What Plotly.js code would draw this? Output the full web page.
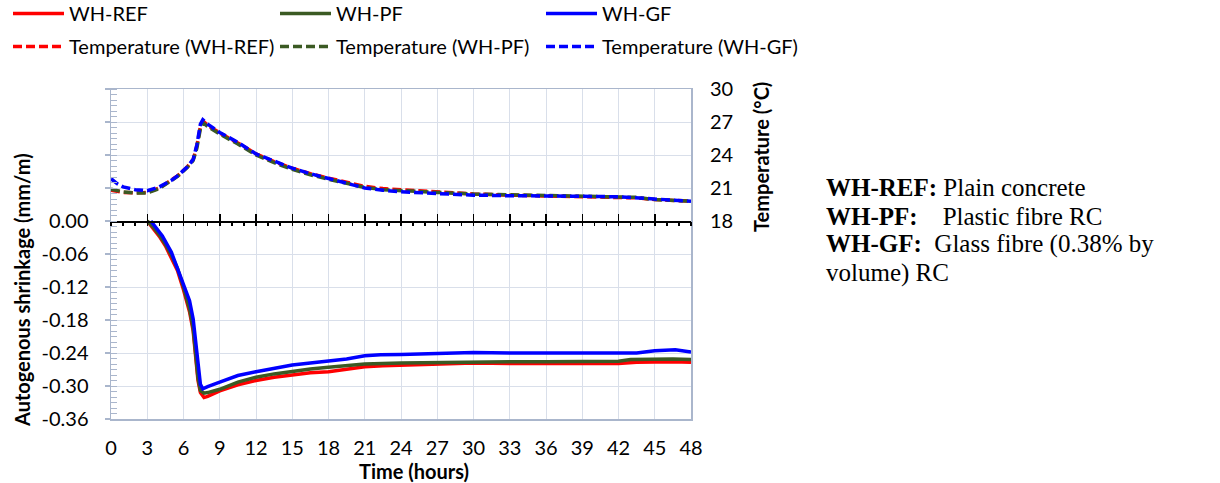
<!DOCTYPE html>
<html><head><meta charset="utf-8">
<script src="https://cdn.plot.ly/plotly-3.0.1.min.js"></script>
<style>body{margin:0;background:#fff}</style>
</head><body><div id="chart" style="width:1220px;height:483px"></div>
<script>
// ---- data ----
const timeRef = [3,3.5,4,4.5,5,5.5,6,6.5,6.8,7.0,7.2,7.4,7.7,8,9,10.5,12,13.5,15,16.5,18,19.5,21,22.5,24,27,30,33,36,39,42,43.5,45,46.5,48];
const shrinkRef = [0,-0.013,-0.028,-0.045,-0.066,-0.09,-0.125,-0.165,-0.2,-0.245,-0.29,-0.312,-0.321,-0.319,-0.309,-0.298,-0.29,-0.284,-0.28,-0.276,-0.274,-0.27,-0.265,-0.263,-0.262,-0.26,-0.258,-0.259,-0.259,-0.259,-0.259,-0.257,-0.256,-0.256,-0.257];
const timePF = [3,3.5,4,4.5,5,5.5,6,6.5,6.8,7.0,7.2,7.4,7.7,8,9,10.5,12,13.5,15,16.5,18,19.5,21,24,27,30,33,36,39,42,43,45,46.5,48];
const shrinkPF = [0,-0.011,-0.025,-0.042,-0.062,-0.086,-0.12,-0.16,-0.195,-0.24,-0.285,-0.308,-0.313,-0.312,-0.306,-0.293,-0.284,-0.278,-0.273,-0.269,-0.266,-0.263,-0.26,-0.258,-0.257,-0.257,-0.256,-0.256,-0.256,-0.255,-0.252,-0.251,-0.251,-0.252];
const timeGF = [3.3,3.8,4.25,5,5.7,6.2,6.5,6.8,7.0,7.2,7.4,7.6,8,9,10.5,12,13.5,15,16.5,18,19.5,21,22.3,24,27,30,33,36,39,42,43.5,45,46.7,48];
const shrinkGF = [0,-0.013,-0.027,-0.057,-0.097,-0.128,-0.145,-0.178,-0.22,-0.263,-0.297,-0.305,-0.301,-0.293,-0.281,-0.274,-0.268,-0.262,-0.258,-0.254,-0.251,-0.245,-0.243,-0.2425,-0.24,-0.239,-0.24,-0.24,-0.24,-0.241,-0.24,-0.236,-0.234,-0.238];

const tempTimeRef = [0,1,2,3,4,5,5.5,6.3,6.8,7.1,7.4,7.6,8,9,10.5,12,13.5,15,16.5,18,19.5,21,22.5,24,27,30,33,36,39,42,43.5,45,48];
const tempRef = [20.8,20.6,20.55,20.6,21.0,21.7,22.1,22.9,23.6,24.8,26.6,27.1,26.7,26.0,25.1,24.1,23.4,22.8,22.3,21.9,21.5,21.15,20.95,20.85,20.65,20.45,20.35,20.3,20.25,20.2,20.1,19.95,19.8];
const tempTimePF = [0,1,2,3,4,5,5.5,6.3,6.8,7.1,7.4,7.6,8,9,10.5,12,13.5,15,16.5,18,19.5,21,22.5,24,27,30,33,36,39,42,43.5,45,48];
const tempPF = [20.9,20.65,20.55,20.55,20.95,21.65,22.05,22.85,23.5,24.6,26.4,26.95,26.6,25.9,25.0,24.0,23.3,22.7,22.2,21.8,21.4,21.05,20.85,20.75,20.6,20.45,20.4,20.3,20.3,20.2,20.15,19.95,19.8];
const tempTimeGF = [0,0.5,1,2,3,4,5,5.5,6.3,6.8,7.1,7.4,7.6,8,9,10.5,12,13.5,15,16.5,18,19.5,21,22.5,24,27,30,33,36,39,42,43.5,45,48];
const tempGF = [21.85,21.4,21.1,20.85,20.75,21.1,21.7,22.1,22.9,23.6,24.9,26.8,27.2,26.8,26.05,25.15,24.1,23.45,22.8,22.3,21.85,21.45,21.0,20.8,20.65,20.5,20.35,20.3,20.3,20.25,20.2,20.1,19.95,19.8];

const seriesNames = ['WH-REF','WH-PF','WH-GF'];
const tempNames = ['Temperature (WH-REF)','Temperature (WH-PF)','Temperature (WH-GF)'];
const shrinkTicks = [-0.36,-0.30,-0.24,-0.18,-0.12,-0.06,0,0.06,0.12,0.18,0.24];
const shrinkTickText = ['-0.36','-0.30','-0.24','-0.18','-0.12','-0.06','0.00','','','',''];
const tempTicks = [18,21,24,27,30];
const noteLines = [
  '<b>WH-REF:</b> Plain concrete',
  '<b>WH-PF:</b>\u00a0\u00a0\u00a0\u00a0Plastic fibre RC',
  '<b>WH-GF:</b>\u00a0\u00a0Glass fibre (0.38% by',
  'volume) RC'
];

// ---- styling ----
const RED = '#ff0000', GREEN = '#3b5a23', BLUE = '#0000ff';
const colors = [RED, GREEN, BLUE];
const FONT = 'Lato, "Open Sans", sans-serif';
const FS = 20;
const GRID = '#d9dfea', AXIS = '#aab6cc';
const L = 111, R = 691, T = 89, B = 419, W = R - L, H = B - T;
const px = x => (x - L) / W;
const py = y => (B - y) / H;
const LW = 3.5, DASH = '9px,4px';

const shrinkX = [timeRef, timePF, timeGF], shrinkY = [shrinkRef, shrinkPF, shrinkGF];
const tempX = [tempTimeRef, tempTimePF, tempTimeGF], tempY = [tempRef, tempPF, tempGF];

const traces = [];
for (let i = 0; i < 3; i++) {
  traces.push({x: shrinkX[i], y: shrinkY[i], type: 'scatter', mode: 'lines', name: seriesNames[i],
    line: {color: colors[i], width: LW}, legend: i === 0 ? 'legend' : 'legend' + (i + 1), hoverinfo: 'skip'});
}
for (let i = 0; i < 3; i++) {
  traces.push({x: tempX[i], y: tempY[i], type: 'scatter', mode: 'lines', name: tempNames[i], yaxis: 'y2',
    line: {color: colors[i], width: LW, dash: DASH}, legend: 'legend' + (i + 4), hoverinfo: 'skip'});
}
traces.push({x: [], y: [], xaxis: 'x2', showlegend: false, hoverinfo: 'skip', type: 'scatter'});
traces.push({x: [], y: [], xaxis: 'x3', showlegend: false, hoverinfo: 'skip', type: 'scatter'});

const legendX = [8, 275, 541];
const legendY = [-6, 27];
const layout = {
  width: 1220, height: 483,
  showlegend: true,
  margin: {l: L, r: 1220 - R, t: T, b: 483 - B, autoexpand: false},
  paper_bgcolor: '#fff', plot_bgcolor: '#fff',
  font: {family: FONT, size: FS, color: '#000'},
  xaxis: {range: [0, 48], tickmode: 'linear', tick0: 0, dtick: 3, showgrid: true, gridcolor: GRID, gridwidth: 1,
    showline: true, linecolor: AXIS, linewidth: 1.5, mirror: true, ticks: '', zeroline: false,
    tickfont: {family: FONT, size: FS, color: '#000'}, ticklabelstandoff: 10},
  xaxis2: {overlaying: 'x', anchor: 'free', position: 0.6, range: [0, 48], tickmode: 'linear', tick0: 0, dtick: 3,
    showline: true, linecolor: '#000', linewidth: 1.5, ticks: 'inside', ticklen: 7, tickwidth: 1.5, tickcolor: '#000',
    showticklabels: false, showgrid: false, zeroline: false},
  xaxis3: {overlaying: 'x', anchor: 'free', position: 0.6, range: [0, 48], tickmode: 'linear', tick0: 0, dtick: 1,
    showline: false, ticks: 'outside', ticklen: 4, tickwidth: 1.5, tickcolor: '#000',
    showticklabels: false, showgrid: false, zeroline: false},
  yaxis: {range: [-0.36, 0.24], tickmode: 'array', tickvals: shrinkTicks, ticktext: shrinkTickText,
    showgrid: true, gridcolor: GRID, gridwidth: 1, zeroline: false,
    showline: true, linecolor: AXIS, linewidth: 1.5, mirror: true,
    ticks: 'outside', ticklen: 5, tickcolor: AXIS, tickwidth: 1.5,
    minor: {tickmode: 'linear', tick0: 0, dtick: 0.01, ticks: 'inside', ticklen: 6, tickcolor: AXIS, tickwidth: 1, showgrid: false},
    tickfont: {family: FONT, size: FS, color: '#000'}, ticklabelstandoff: 12},
  yaxis2: {overlaying: 'y', side: 'right', range: [0, 30], tickmode: 'array', tickvals: tempTicks,
    showgrid: false, zeroline: false, showline: false, ticks: '',
    tickfont: {family: FONT, size: FS, color: '#000'}, ticklabelstandoff: 18},
  annotations: [
    {text: '<b>Autogenous shrinkage (mm/m)</b>', xref: 'paper', yref: 'paper', x: px(22), y: py(290),
      textangle: -90, showarrow: false, xanchor: 'center', yanchor: 'middle', font: {family: FONT, size: FS, color: '#000'}},
    {text: '<b>Temperature (°C)</b>', xref: 'paper', yref: 'paper', x: px(761), y: py(157),
      textangle: -90, showarrow: false, xanchor: 'center', yanchor: 'middle', font: {family: FONT, size: FS, color: '#000'}},
    {text: '<b>Time (hours)</b>', xref: 'paper', yref: 'paper', x: px(414), y: py(471),
      showarrow: false, xanchor: 'center', yanchor: 'middle', font: {family: FONT, size: FS, color: '#000'}}
  ]
};
const noteY = [187.5, 216, 244, 272.5];
noteLines.forEach((t, i) => {
  layout.annotations.push({text: t, xref: 'paper', yref: 'paper', x: px(825), y: py(noteY[i]),
    showarrow: false, xanchor: 'left', yanchor: 'middle', align: 'left', borderpad: 0,
    font: {family: '"Liberation Serif", "Times New Roman", serif', size: 25, color: '#000'}});
});
for (let k = 0; k < 6; k++) {
  const key = k === 0 ? 'legend' : 'legend' + (k + 1);
  layout[key] = {x: px(legendX[k % 3]), y: py(legendY[Math.floor(k / 3)]), xanchor: 'left', yanchor: 'top',
    orientation: 'v', bgcolor: 'rgba(0,0,0,0)', borderwidth: 0, itemwidth: 51, visible: true,
    font: {family: FONT, size: FS, color: '#000'}};
}
Plotly.newPlot('chart', traces, layout, {displayModeBar: false, staticPlot: true});
</script>
</body></html>
